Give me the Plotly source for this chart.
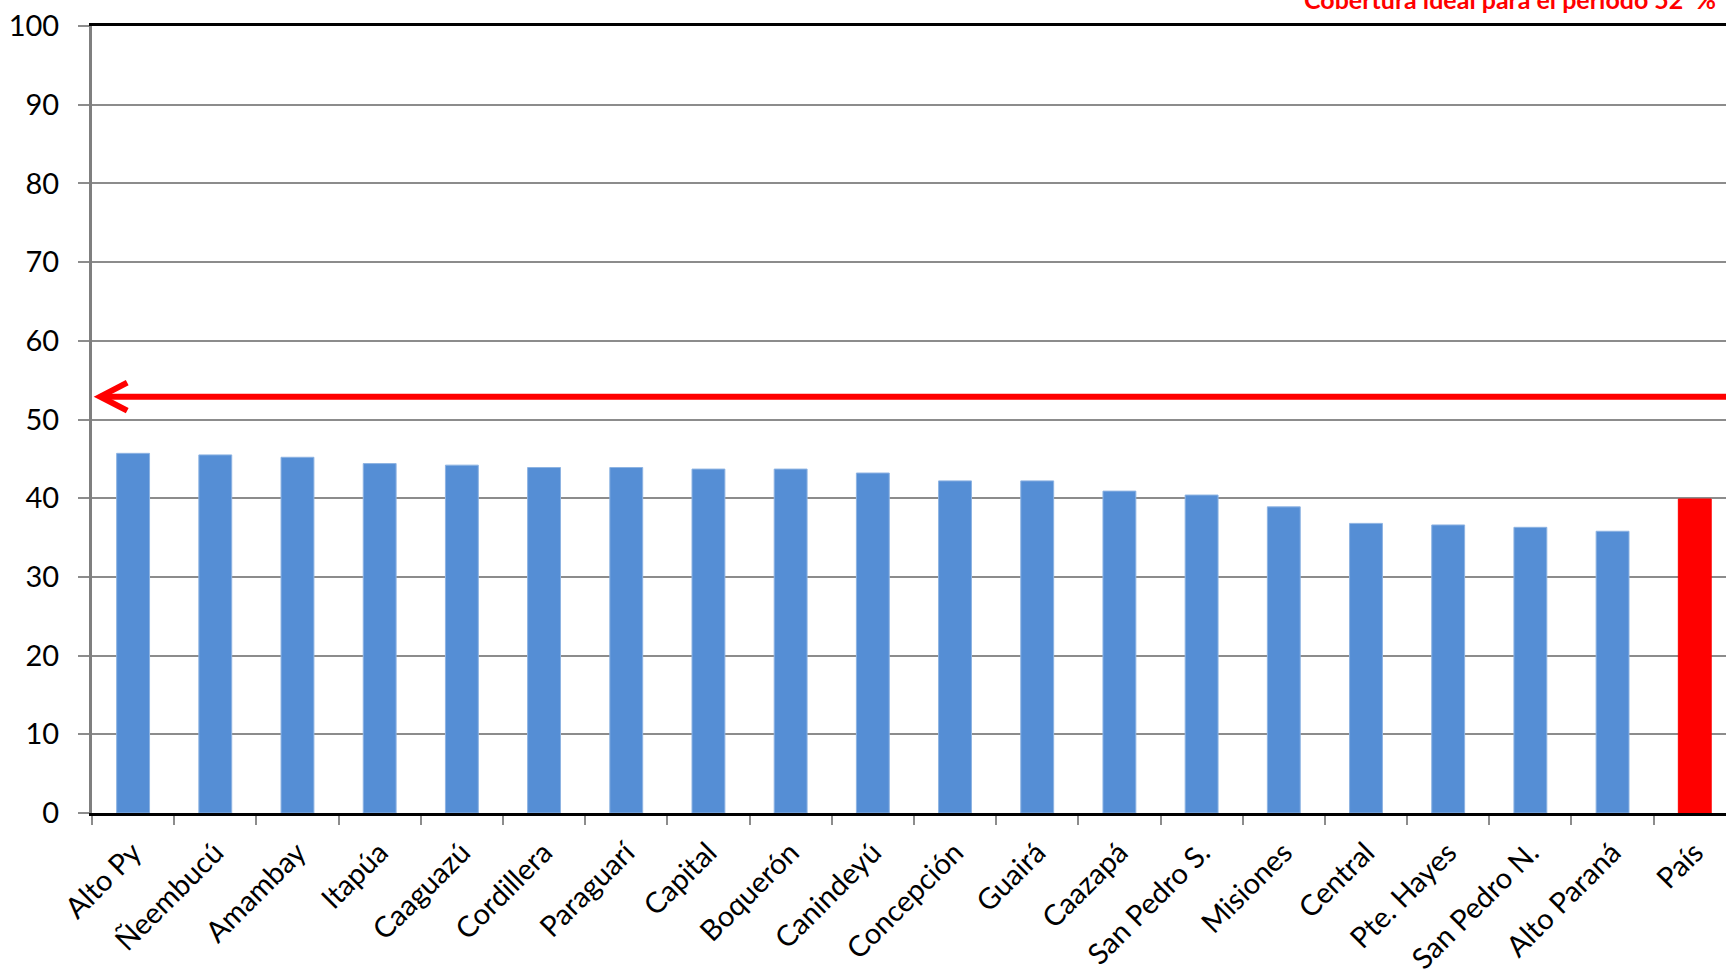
import plotly.graph_objects as go

# Cobertura por departamento (%)
departamentos = ["Alto Py", "Ñeembucú", "Amambay", "Itapúa", "Caaguazú", "Cordillera",
                 "Paraguarí", "Capital", "Boquerón", "Canindeyú", "Concepción", "Guairá",
                 "Caazapá", "San Pedro S.", "Misiones", "Central", "Pte. Hayes",
                 "San Pedro N.", "Alto Paraná", "País"]
cobertura = [45.7, 45.5, 45.2, 44.4, 44.2, 43.9, 43.9, 43.7, 43.7, 43.2,
             42.2, 42.2, 40.9, 40.4, 38.9, 36.8, 36.6, 36.3, 35.8, 39.9]
y_ticks = [0, 10, 20, 30, 40, 50, 60, 70, 80, 90, 100]
meta_ideal = 52.9  # altura de la flecha roja
titulo = "Cobertura ideal para el período 52  %"

FONT = "Lato"
colores = ["#FF0000" if d == "País" else "#558ED5" for d in departamentos]
bordes = ["#FF0000" if d == "País" else "#8DB3E2" for d in departamentos]

fig = go.Figure()
fig.add_trace(go.Bar(
    x=departamentos,
    y=cobertura,
    marker=dict(color=colores, line=dict(color=bordes, width=1)),
    showlegend=False,
))

# flecha roja: linea + punta abierta
fig.add_shape(type="line", xref="x", yref="y",
              x0=-0.4, x1=19.6, y0=meta_ideal, y1=meta_ideal,
              line=dict(color="#FF0000", width=6))
fig.add_shape(type="path", xref="x", yref="y",
              xsizemode="pixel", ysizemode="pixel",
              xanchor=-0.4, yanchor=meta_ideal,
              path="M 27,14 L 0,0 L 27,-14",
              line=dict(color="#FF0000", width=6))

# titulo (cortado arriba como en el original)
fig.add_annotation(
    text=f"<b>{titulo}</b>",
    xref="paper", yref="paper", x=1.0, y=1.0,
    xanchor="right", yanchor="bottom", yshift=10, xshift=-8,
    showarrow=False,
    font=dict(family=FONT, size=25, color="#FF0000"),
)

fig.update_layout(
    width=1726, height=978,
    margin=dict(l=92, r=0, t=26, b=165),
    paper_bgcolor="white", plot_bgcolor="white",
    bargap=0.6,
    font=dict(family=FONT, size=29, color="black"),
    xaxis=dict(
        range=[-0.5, 19.38],
        tickangle=-45,
        tickson="boundaries",
        ticks="outside", ticklen=9, tickwidth=2, tickcolor="#8C8C8C",
        ticklabelstandoff=8,
        showline=True, linecolor="black", linewidth=3, mirror=True,
        showgrid=False,
        tickfont=dict(family=FONT, size=29, color="black"),
    ),
    yaxis=dict(
        range=[0, 100],
        tickvals=y_ticks,
        ticks="outside", ticklen=11, tickwidth=2, tickcolor="#8C8C8C",
        ticklabelstandoff=13,
        showline=True, linecolor="#7F7F7F", linewidth=3,
        showgrid=True, gridcolor="#8C8C8C", gridwidth=2,
        zeroline=False,
        tickfont=dict(family=FONT, size=29, color="black"),
    ),
)

fig.write_html("out.html", config={"displayModeBar": False},
               post_script="document.body.style.margin='0';")
